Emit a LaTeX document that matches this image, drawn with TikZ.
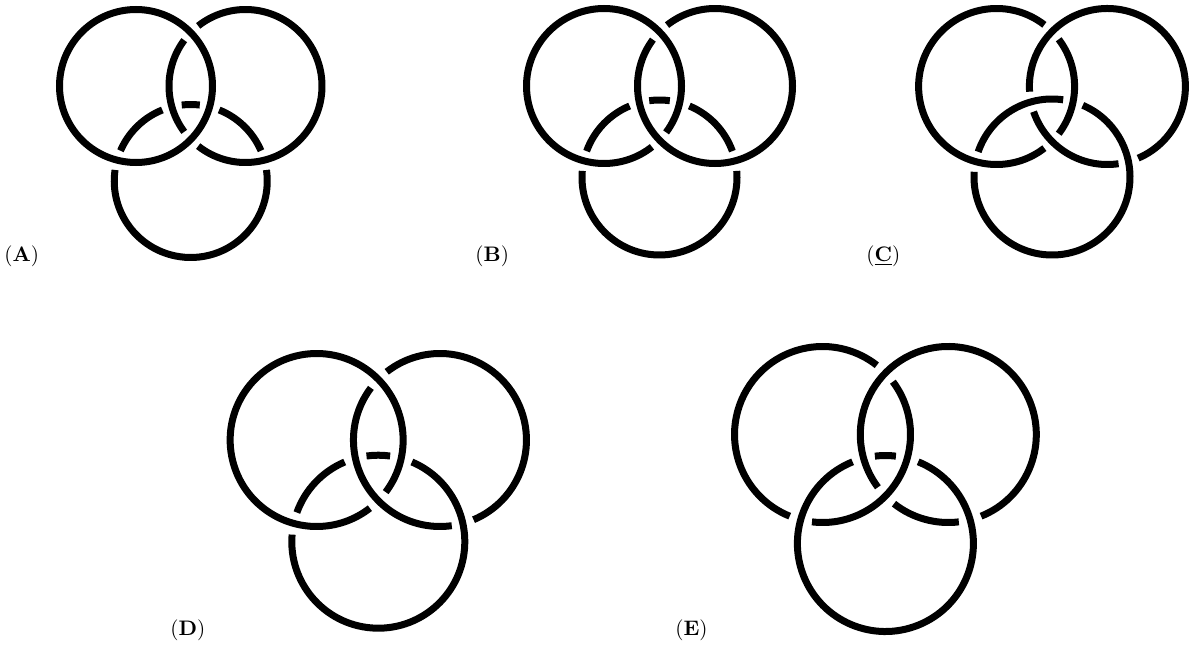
\documentclass[tikz,border=0pt]{standalone}
\usepackage{tikz}
\tikzset{
  ring/.style = {
    line width=3.5pt,
    line cap=butt
  },
  tag/.style = {
    anchor=base west,
    inner sep=0pt,
    font=\fontsize{10.5}{12}\selectfont
  }
}
% three rings: prefix, mid of top pair (x,y), spacing, drop of lower ring, radius
\newcommand{\ringset}[6]{%
  \coordinate (#1L) at (#2-#4/2,#3);
  \coordinate (#1R) at (#2+#4/2,#3);
  \coordinate (#1B) at (#2,#3-#5);
  \def\rr{#6}%
  \pgfmathsetmacro\ha{acos(#4/2/#6)}%
  \pgfmathsetmacro\dir{atan2(#5,#4/2)}%
  \pgfmathsetmacro\hb{acos(veclen(#4/2,#5)/2/#6)}%
}
% pieces of one ring between its gaps
\newcommand{\ringarcs}[2]{%
  \foreach \p/\q in {#2}
    \draw[ring] (#1) ++(\p:\rr) arc[start angle=\p, end angle=\q, radius=\rr];
}
\def\gap{7.5}

\begin{document}
\begin{tikzpicture}[x=0.5pt,y=0.5pt]
    \useasboundingbox (0,0) rectangle (1195,650);
    % (A)
    \begin{scope}
      \ringset{a}{190.75}{564}{109.5}{95}{76.5}
      \draw[ring] (aL) circle[radius=\rr];
      \ringarcs{aR}{180-\ha+\gap/180+\ha-\gap, 180+\ha+\gap/540-\ha-\gap}
      \ringarcs{aB}{\dir-\hb+\gap/180-\dir-\hb-\gap, 180-\dir-\hb+\gap/\dir+\hb-\gap,
        \dir+\hb+\gap/180-\dir+\hb-\gap, 180-\dir+\hb+\gap/360+\dir-\hb-\gap}
    \end{scope}
    % (B)
    \begin{scope}
      \ringset{b}{659.5}{564}{111}{91.5}{77.5}
      \ringarcs{bL}{-\ha+\gap/360-\ha-\gap}
      \ringarcs{bR}{180-\ha+\gap/540-\ha-\gap}
      \ringarcs{bB}{\dir-\hb+\gap/180-\dir-\hb-\gap, 180-\dir-\hb+\gap/\dir+\hb-\gap,
        \dir+\hb+\gap/180-\dir+\hb-\gap, 180-\dir+\hb+\gap/360+\dir-\hb-\gap}
    \end{scope}
    % (C)
    \begin{scope}
      \ringset{c}{1052}{563.5}{110.8}{90.5}{78}
      \ringarcs{cL}{-\ha+\gap/\ha-\gap, \ha+\gap/360-\ha-\gap}
      \ringarcs{cR}{180+\dir-\hb+\gap/180+\dir+\hb-\gap, 180+\dir+\hb+\gap/540+\dir-\hb-\gap}
      \ringarcs{cB}{180-\dir-\hb+\gap/180-\dir+\hb-\gap, 180-\dir+\hb+\gap/540-\dir-\hb-\gap}
    \end{scope}
    % (D)
    \begin{scope}
      \ringset{d}{378.3}{210}{123.3}{101.7}{86.5}
      \ringarcs{dL}{-\ha+\gap/360-\ha-\gap}
      \ringarcs{dR}{180-\ha+\gap/180+\dir+\hb-\gap, 180+\dir+\hb+\gap/540-\ha-\gap}
      \ringarcs{dB}{180-\dir-\hb+\gap/\dir+\hb-\gap, \dir+\hb+\gap/180-\dir+\hb-\gap,
        180-\dir+\hb+\gap/540-\dir-\hb-\gap}
    \end{scope}
    % (E)
    \begin{scope}
      \ringset{e}{885.4}{215.5}{125.8}{109}{88}
      \ringarcs{eL}{-\dir-\hb+\gap/\ha-\gap, \ha+\gap/360-\dir-\hb-\gap}
      \ringarcs{eR}{180+\ha+\gap/180+\dir+\hb-\gap, 180+\dir+\hb+\gap/540+\ha-\gap}
      \ringarcs{eB}{180-\dir-\hb+\gap/\dir+\hb-\gap, \dir+\hb+\gap/540-\dir-\hb-\gap}
    \end{scope}
    % labels
    \node[tag] (labA) at (4,388.5) {(\textbf{A})};
    \node[tag] (labB) at (475,388.5) {(\textbf{B})};
    \node[tag] (labC) at (866,388.5) {(\underline{\textbf{C}})};
    \node[tag] (labD) at (170,15) {(\textbf{D})};
    \node[tag] (labE) at (675,15) {(\textbf{E})};
  \end{tikzpicture}
\end{document}
